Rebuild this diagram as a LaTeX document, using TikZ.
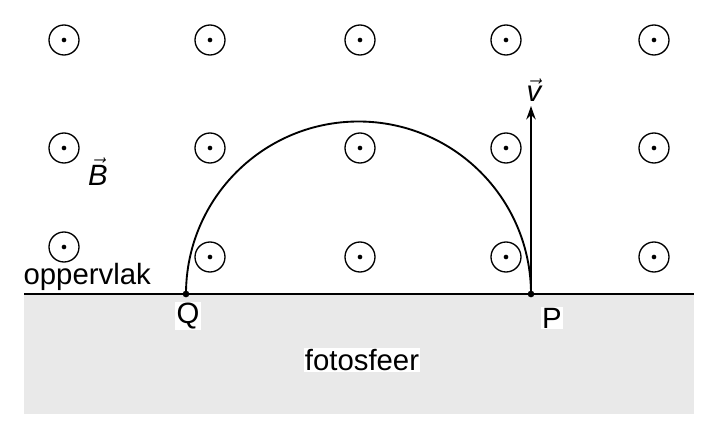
\documentclass[tikz,border=0pt]{standalone}
\usepackage{fontspec}
\setmainfont{Liberation Sans}
\usetikzlibrary{arrows.meta}
\begin{document}
\begin{tikzpicture}[x=0.75pt,y=-0.75pt,
  fld/.style={circle,draw,line width=1pt,minimum size=30*0.75pt,inner sep=0pt},
  dt/.style={circle,fill,inner sep=0pt,minimum size=3.5pt},
  lbl/.style={font=\fontsize{22}{26}\selectfont,inner sep=1pt},
  pt/.style={circle,fill,inner sep=0pt,minimum size=5pt}]
\useasboundingbox (0,0) rectangle (719,439);
\fill[gray!17] (24,294) rectangle (694,414);
\draw[line width=1.4pt] (24,294) -- (694,294);
\foreach \x/\y [count=\i] in {64/40,210/40,360/40,506/40,654/40,
  64/148,210/148,360/148,506/148,654/148,
  64/247,210/257,360/257,506/257,654/257}{
  \node[fld] (f\i) at (\x,\y) {};
  \node[dt] (d\i) at (f\i.center) {};
}
\node[pt] (Q) at (186,294) {};
\node[pt] (P) at (531,294) {};
\draw[line width=1.4pt] (Q.center) arc[start angle=180,end angle=360,radius=172.5];
\coordinate (vt) at (531,106);
\draw[line width=1.4pt,-{Stealth[length=10pt,width=7pt]}] (P.center) -- (vt);
\node[lbl] (v) at (534,90) {$\vec{\mbox{\itshape v}}$};
\node[lbl] (B) at (98,172) {$\vec{\mbox{\itshape B}}$};
\node[lbl,anchor=base west] (opp) at (22,284) {oppervlak};
\node[lbl,fill=white] (ql) at (188,316) {Q};
\node[lbl,fill=white] (pl) at (552,318) {P};
\node[lbl,fill=white] (fs) at (362,360) {fotosfeer};
\end{tikzpicture}
\end{document}
